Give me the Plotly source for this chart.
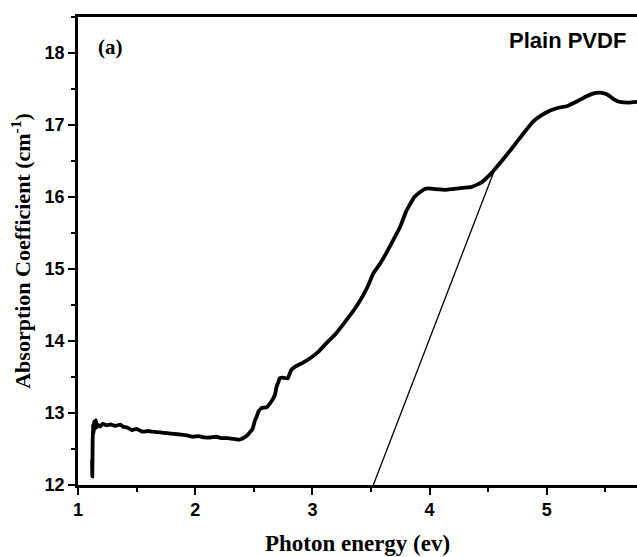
import plotly.graph_objects as go

# Photon energy (eV) and absorption coefficient
energy = [1.120, 1.122, 1.125, 1.128, 1.132, 1.138, 1.145, 1.152, 1.16, 1.17, 1.19, 1.21, 1.245,
          1.28, 1.32, 1.36, 1.385, 1.42, 1.46, 1.50, 1.55, 1.60, 1.64, 1.70, 1.76, 1.82, 1.88,
          1.93, 1.98, 2.03, 2.08, 2.13, 2.18, 2.23, 2.28, 2.33, 2.38, 2.42, 2.45, 2.47, 2.49,
          2.51, 2.525, 2.54, 2.567, 2.61, 2.65, 2.68, 2.695, 2.71, 2.72, 2.75, 2.79, 2.82, 2.86,
          2.92, 2.98, 3.05, 3.12, 3.20, 3.29, 3.35, 3.41, 3.47, 3.52, 3.58, 3.63, 3.69, 3.75,
          3.80, 3.83, 3.87, 3.92, 3.96, 3.99, 4.05, 4.14, 4.25, 4.36, 4.44, 4.515, 4.60, 4.69,
          4.79, 4.885, 4.96, 5.03, 5.10, 5.17, 5.26, 5.34, 5.40, 5.45, 5.49, 5.52, 5.57, 5.625,
          5.70, 5.77]
absorption = [12.35, 12.12, 12.60, 12.85, 12.72, 12.88, 12.78, 12.90, 12.80, 12.84, 12.81, 12.85, 12.83,
              12.84, 12.82, 12.84, 12.81, 12.80, 12.76, 12.78, 12.74, 12.75, 12.74, 12.73, 12.72, 12.71, 12.70,
              12.69, 12.67, 12.68, 12.66, 12.66, 12.67, 12.65, 12.65, 12.64, 12.63, 12.66, 12.70, 12.74, 12.78,
              12.90, 12.95, 13.02, 13.07, 13.08, 13.16, 13.25, 13.37, 13.43, 13.48, 13.49, 13.48, 13.60, 13.65,
              13.70, 13.76, 13.85, 13.97, 14.10, 14.29, 14.42, 14.57, 14.75, 14.94, 15.08, 15.22, 15.40, 15.59,
              15.80, 15.89, 16.00, 16.07, 16.11, 16.12, 16.11, 16.10, 16.12, 16.14, 16.20, 16.31, 16.47, 16.65,
              16.86, 17.05, 17.14, 17.20, 17.24, 17.26, 17.33, 17.40, 17.44, 17.45, 17.44, 17.42, 17.36, 17.32,
              17.31, 17.32]

# Linear extrapolation (tangent) end points
tangent_x = [3.52, 4.56]
tangent_y = [12.0, 16.40]

x_ticks = [1, 2, 3, 4, 5]
y_ticks = [12, 13, 14, 15, 16, 17, 18]

fig = go.Figure()
fig.add_trace(go.Scatter(x=energy, y=absorption, mode="lines",
                         line=dict(color="black", width=3.8, shape="spline", smoothing=0.3),
                         showlegend=False, hoverinfo="skip"))
fig.add_trace(go.Scatter(x=tangent_x, y=tangent_y, mode="lines",
                         line=dict(color="black", width=1.3),
                         showlegend=False, hoverinfo="skip"))

tick_font = dict(family="Liberation Sans, Arial, sans-serif", size=18, color="black")
title_font = dict(family="Liberation Serif, Times New Roman, serif", size=23, color="black")

fig.update_layout(
    width=637, height=557,
    margin=dict(l=78, r=0, t=17, b=72),
    paper_bgcolor="white", plot_bgcolor="white",
    xaxis=dict(
        range=[1, 5.77], tickvals=x_ticks, ticktext=["<b>%d</b>" % v for v in x_ticks],
        showgrid=False, zeroline=False, showline=True, linecolor="black", linewidth=2.5,
        mirror=True, ticks="outside", ticklen=7, tickwidth=2, tickcolor="black",
        minor=dict(dtick=0.5, tick0=1, ticks="outside", ticklen=4, tickwidth=2, tickcolor="black"),
        tickfont=tick_font,
        title=dict(text="<b>Photon energy (ev)</b>", font=title_font, standoff=16),
    ),
    yaxis=dict(
        range=[12, 18.5], tickvals=y_ticks, ticktext=["<b>%d</b>" % v for v in y_ticks],
        showgrid=False, zeroline=False, showline=True, linecolor="black", linewidth=2.5,
        mirror=False, ticks="outside", ticklen=7, tickwidth=2, tickcolor="black",
        minor=dict(dtick=0.5, tick0=12, ticks="outside", ticklen=4, tickwidth=2, tickcolor="black"),
        tickfont=tick_font,
        title=dict(text="<b>Absorption Coefficient (cm<sup>-1</sup>)</b>",
                   font=dict(family="Liberation Serif, Times New Roman, serif", size=22, color="black"),
                   standoff=8),
    ),
    annotations=[
        dict(text="<b>(a)</b>", x=96, y=47, xref="x domain", yref="y domain",
             xanchor="left", yanchor="middle", showarrow=False,
             font=dict(family="Liberation Serif, Times New Roman, serif", size=21, color="black")),
        dict(text="<b>Plain PVDF</b>", x=628, y=40, xref="x domain", yref="y domain",
             xanchor="right", yanchor="middle", showarrow=False,
             font=dict(family="Liberation Sans, Arial, sans-serif", size=22, color="black")),
    ],
)

# convert pixel positions of annotations to domain fractions
pl, pt, pw, ph = 78, 17, 637 - 78, 557 - 17 - 72
for ann in fig.layout.annotations:
    ann.x = (ann.x - pl) / pw
    ann.y = 1 - (ann.y - pt) / ph

fig.write_html("out.html", config={"displayModeBar": False},
               post_script="document.body.style.margin='0';document.body.style.overflow='hidden';")
